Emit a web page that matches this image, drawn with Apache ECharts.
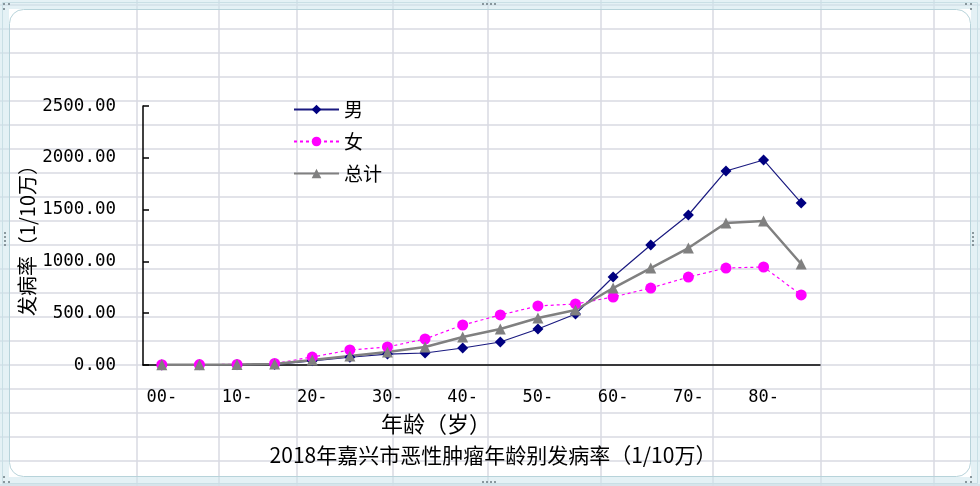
<!DOCTYPE html>
<html><head><meta charset="utf-8">
<script src="https://cdn.jsdelivr.net/npm/echarts@6/dist/echarts.min.js"></script>
<style>html,body{margin:0;padding:0;background:#fff}#c{width:980px;height:486px}</style>
</head><body><div id="c"></div>
<script>
const categories = ['00-','05-','10-','15-','20-','25-','30-','35-','40-','45-','50-','55-','60-','65-','70-','75-','80-','85-'];
const male   = [1, 2, 3, 6, 40, 75, 105, 116, 164, 222, 347, 492, 849, 1158, 1448, 1873, 1979, 1564];
const female = [3, 4, 6, 15, 77, 145, 174, 251, 386, 483, 570, 589, 656, 743, 849, 936, 946, 676];
const total  = [2, 3, 4, 10, 48, 87, 125, 174, 270, 347, 454, 531, 743, 936, 1129, 1371, 1390, 975];
const seriesNames = ['男', '女', '总计'];
const chartTitle = '2018年嘉兴市恶性肿瘤年龄别发病率（1/10万）';
const xTitle = '年龄（岁）';
const yTitle = '发病率（1/10万）';

const cjk = '"Noto Sans CJK SC", sans-serif';
const mono = '"DejaVu Sans Mono", "Liberation Mono", monospace';

// decorative spreadsheet background grid
const bg = [];
const gridColor = '#d8dae2';
[137, 219, 297, 393, 488, 601, 713, 821, 934].forEach(x => {
  bg.push({type:'line', silent:true, z:-10, shape:{x1:x, y1:0, x2:x, y2:486}, style:{stroke:gridColor, lineWidth:1.5}});
});
for (let y = 5; y < 486; y += 24) {
  bg.push({type:'line', silent:true, z:-10, shape:{x1:0, y1:y, x2:980, y2:y}, style:{stroke:gridColor, lineWidth:1.5}});
}
// frame band
const band = 'rgba(205,230,236,0.55)';
bg.push({type:'rect', silent:true, z:-9, shape:{x:0,y:0,width:980,height:9}, style:{fill:band}});
bg.push({type:'rect', silent:true, z:-9, shape:{x:0,y:477,width:980,height:9}, style:{fill:band}});
bg.push({type:'rect', silent:true, z:-9, shape:{x:0,y:9,width:9,height:468}, style:{fill:band}});
bg.push({type:'rect', silent:true, z:-9, shape:{x:971,y:9,width:9,height:468}, style:{fill:band}});
bg.push({type:'rect', silent:true, z:-8, shape:{x:9.5,y:9.5,width:961,height:467,r:14}, style:{fill:'none', stroke:'#b7d3da', lineWidth:1}});
bg.push({type:'rect', silent:true, z:-8, shape:{x:2.5,y:2.5,width:975,height:481}, style:{fill:'none', stroke:'#c9dfe5', lineWidth:1}});
// handle dots
const dots = [[4,4],[9,4],[4,9],[966,4],[971,4],[971,9],[4,477],[4,482],[9,482],[966,482],[971,482],[971,477],
  [483,4],[487,4],[491,4],[495,4],[483,482],[487,482],[491,482],[495,482],
  [5,233],[5,237],[5,241],[5,245],[973,233],[973,237],[973,241],[973,245]];
dots.forEach(d => bg.push({type:'circle', silent:true, z:-7, shape:{cx:d[0], cy:d[1], r:1}, style:{fill:'#6b7a80'}}));

const chart = echarts.init(document.getElementById('c'));
chart.setOption({
  animation: false,
  backgroundColor: '#fff',
  graphic: bg,
  title: [
    {text: chartTitle, left: 488, top: 440, textAlign: 'center', textStyle:{fontFamily: cjk, fontSize: 21, fontWeight: 'normal', color: '#000'}},
    {text: xTitle, left: 431, top: 408, textAlign: 'center', textStyle:{fontFamily: cjk, fontSize: 22, fontWeight: 'normal', color: '#000'}}
  ],
  legend: {
    orient: 'vertical', left: 288, top: 95,
    itemWidth: 45, itemHeight: 12, itemGap: 13,
    textStyle: {fontFamily: cjk, fontSize: 19, color: '#000'},
    data: seriesNames
  },
  grid: {left: 143, right: 160, top: 106, bottom: 121},
  xAxis: {
    type: 'category', data: categories, boundaryGap: true,
    axisLine: {lineStyle: {color: '#000', width: 1.5}},
    axisTick: {inside: true, length: 6, lineStyle: {color: '#000', width: 1.5}},
    axisLabel: {interval: 1, margin: 24, fontFamily: mono, fontSize: 17, color: '#000'}
  },
  yAxis: {
    type: 'value', min: 0, max: 2500, interval: 500,
    name: yTitle, nameLocation: 'middle', nameGap: 106, nameRotate: 90, nameMoveOverlap: false,
    nameTextStyle: {fontFamily: cjk, fontSize: 20, color: '#000'},
    axisLine: {show: true, lineStyle: {color: '#000', width: 1.5}},
    axisTick: {show: true, inside: true, length: 6, lineStyle: {color: '#000', width: 1.5}},
    splitLine: {show: false},
    axisLabel: {margin: 27, fontFamily: mono, fontSize: 17.5, color: '#000', formatter: v => v.toFixed(2)}
  },
  series: [
    {name: seriesNames[0], type: 'line', data: male, symbol: 'diamond', symbolSize: 11,
     lineStyle: {color: '#1a1a80', width: 1.2}, itemStyle: {color: '#000080'}},
    {name: seriesNames[1], type: 'line', data: female, symbol: 'circle', symbolSize: 11,
     lineStyle: {color: '#ff00ff', width: 1.2, type: [3, 3]}, itemStyle: {color: '#ff00ff'}},
    {name: seriesNames[2], type: 'line', data: total, symbol: 'triangle', symbolSize: 11,
     lineStyle: {color: '#808080', width: 2.5}, itemStyle: {color: '#808080'}}
  ]
});
</script></body></html>
